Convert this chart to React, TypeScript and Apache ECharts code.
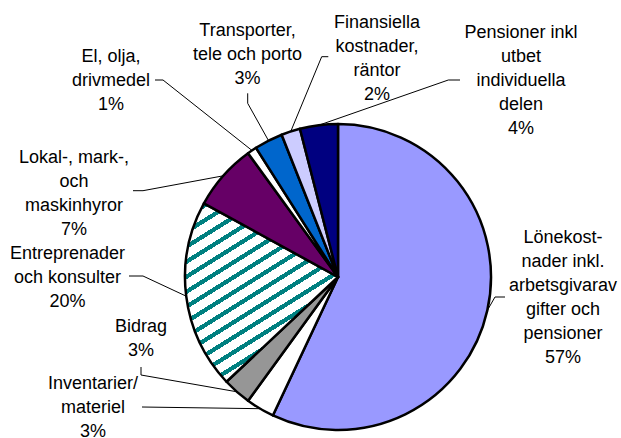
import React, { useEffect, useRef } from 'react';
import * as echarts from 'echarts';

// ---- data ----
const categories = [
  'Lönekost-\nnader inkl.\narbetsgivarav\ngifter och\npensioner',
  'Inventarier/\nmateriel',
  'Bidrag',
  'Entreprenader\noch konsulter',
  'Lokal-, mark-,\noch\nmaskinhyror',
  'El, olja,\ndrivmedel',
  'Transporter,\ntele och porto',
  'Finansiella\nkostnader,\nräntor',
  'Pensioner inkl\nutbet\nindividuella\ndelen',
];
const shares = [57, 3, 3, 20, 7, 1, 3, 2, 4];

// ---- styles / layout (kept apart from data) ----
const sliceColors = ['#9999FF', '#FFFFFF', '#969696', 'STRIPES', '#660066', '#FFFFFF', '#0066CC', '#CCCCFF', '#000080'];
const labelCenters: number[][] = [
  [563, 297], [93, 407], [141, 338], [67.5, 277], [74, 192.5],
  [111, 80], [247.5, 54], [377, 57.5], [521, 80],
];
const labelElbows: number[][][] = [
  [[495, 297], [505, 297]],
  [[142, 407]],
  [[141, 375], [141, 367]],
  [[143, 276], [129, 276]],
  [[143, 190.7], [133, 190.7]],
  [[163, 80], [155, 80]],
  [[247.7, 103.3], [247.7, 93.3]],
  [[321.7, 56.7], [328.3, 56.7]],
  [[448.3, 80], [460, 80]],
];
const CENTER = [338, 277];
const RADIUS = 153;

function makeStripes(): string {
  const w = 24, h = 15;
  const c = document.createElement('canvas');
  c.width = w; c.height = h;
  const ctx = c.getContext('2d')!;
  const img = ctx.createImageData(w, h);
  for (let y = 0; y < h; y++) {
    for (let x = 0; x < w; x++) {
      const v = ((y + Math.floor((x * h) / w)) % h + h) % h;
      const teal = v < 5;
      const k = (y * w + x) * 4;
      img.data[k] = teal ? 0 : 255;
      img.data[k + 1] = teal ? 128 : 255;
      img.data[k + 2] = teal ? 128 : 255;
      img.data[k + 3] = 255;
    }
  }
  ctx.putImageData(img, 0, 0);
  return c.toDataURL();
}

export default function App() {
  const ref = useRef<HTMLDivElement>(null);
  useEffect(() => {
    document.body.style.margin = '0';
    const chart = echarts.init(ref.current!, null, { renderer: 'svg' });
    const stripes = makeStripes();
    const total = shares.reduce((a, b) => a + b, 0);
    const data = categories.map((name, i) => ({
      name,
      value: shares[i],
      itemStyle: {
        color: sliceColors[i] === 'STRIPES'
          ? { image: stripes, repeat: 'repeat', imageWidth: 24, imageHeight: 15 }
          : sliceColors[i],
      },
    }));
    chart.setOption({
      animation: false,
      backgroundColor: '#ffffff',
      series: [
        {
          type: 'pie',
          center: CENTER,
          radius: RADIUS,
          startAngle: 90,
          clockwise: true,
          avoidLabelOverlap: false,
          data,
          itemStyle: { borderColor: '#000', borderWidth: 2.5 },
          emphasis: { disabled: true },
          label: {
            show: true,
            position: 'outside',
            formatter: '{b}\n{c}%',
            color: '#000',
            fontFamily: "'Liberation Sans', Arial, sans-serif",
            fontSize: 18,
            lineHeight: 24,
            align: 'center',
          },
          labelLine: { show: true, lineStyle: { color: '#000', width: 1 } },
          labelLayout: (params: any) => {
            const i = params.dataIndex;
            let start = params.labelLinePoints && params.labelLinePoints[0];
            if (!start) {
              let cum = 0;
              for (let k = 0; k < i; k++) cum += shares[k];
              const a = ((cum + shares[i] / 2) / total) * Math.PI * 2;
              start = [CENTER[0] + RADIUS * Math.sin(a), CENTER[1] - RADIUS * Math.cos(a)];
            }
            return {
              x: labelCenters[i][0],
              y: labelCenters[i][1],
              align: 'center',
              verticalAlign: 'middle',
              labelLinePoints: [start, ...labelElbows[i]],
            };
          },
        },
      ],
    });
    return () => chart.dispose();
  }, []);
  return <div ref={ref} style={{ width: 621, height: 438 }} />;
}
